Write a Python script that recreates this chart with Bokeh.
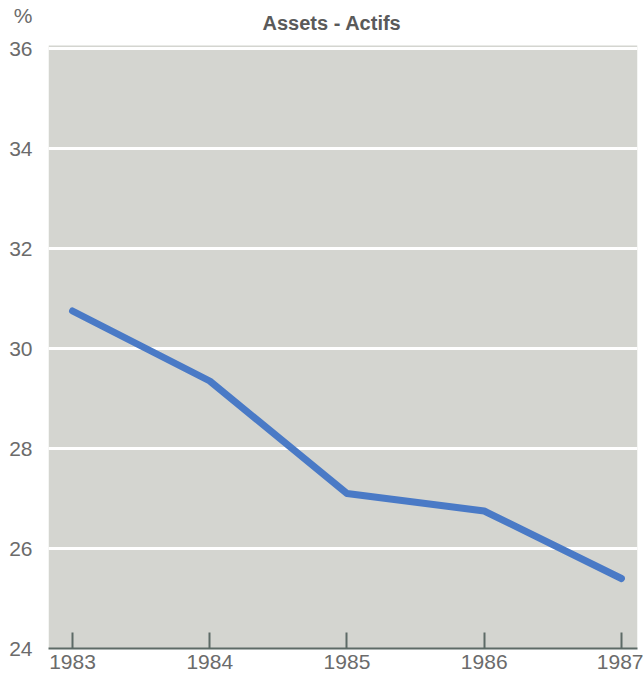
from bokeh.plotting import figure
from bokeh.models import Range1d, FixedTicker, Label, BoxAnnotation
from bokeh.embed import file_html
from bokeh.resources import INLINE

years = [1983, 1984, 1985, 1986, 1987]
assets = [30.75, 29.35, 27.1, 26.75, 25.4]
y_ticks = [24, 26, 28, 30, 32, 34, 36]
y_min, y_max = 24, 36.06
title_text = "Assets - Actifs"
unit_text = "%"
unit_pos = 36.66

TEXT = "#6b6b6b"
FONT = "Liberation Sans"

p = figure(width=643, height=686, output_backend="svg", toolbar_location=None,
           x_range=Range1d(1982.825, 1987.117), y_range=Range1d(24, 36.96),
           min_border_left=48, min_border_top=0, min_border_bottom=38, min_border_right=6)

p.background_fill_color = "white"
p.border_fill_color = "white"
p.outline_line_color = None

# grey plotting panel (24 .. 36 band)
p.add_layout(BoxAnnotation(bottom=y_min, top=y_max, fill_color="#d4d5d0", fill_alpha=1,
                           line_color=None, level="image"))

p.line(years, assets, line_color="#4a7ac6", line_width=7, line_cap="round", line_join="round")

p.xgrid.grid_line_color = None
p.ygrid.ticker = FixedTicker(ticks=y_ticks)
p.ygrid.grid_line_color = "white"
p.ygrid.grid_line_width = 3

p.xaxis.ticker = FixedTicker(ticks=years)
p.xaxis.axis_line_color = "#5d6b66"
p.xaxis.axis_line_width = 2
p.xaxis.major_tick_line_color = "#5d6b66"
p.xaxis.major_tick_line_width = 2
p.xaxis.major_tick_in = 16
p.xaxis.major_tick_out = 0
p.xaxis.minor_tick_line_color = None
p.xaxis.major_label_standoff = 6
p.xaxis.major_label_text_font = FONT
p.xaxis.major_label_text_font_size = "21px"
p.xaxis.major_label_text_color = TEXT

p.yaxis.ticker = FixedTicker(ticks=y_ticks + [unit_pos])
p.yaxis.major_label_overrides = {unit_pos: unit_text}
p.yaxis.axis_line_color = None
p.yaxis.major_tick_line_color = None
p.yaxis.minor_tick_line_color = None
p.yaxis.major_tick_in = 0
p.yaxis.major_tick_out = 0
p.yaxis.major_label_standoff = 16
p.yaxis.major_label_text_font = FONT
p.yaxis.major_label_text_font_size = "21px"
p.yaxis.major_label_text_color = TEXT

p.add_layout(Label(x=1984.891, y=36.52, text=title_text, text_align="center",
                   text_baseline="middle", text_font=FONT, text_font_size="20px",
                   text_font_style="bold", text_color="#5a5a5a"))

open("out.html", "w").write(file_html(p, INLINE))
